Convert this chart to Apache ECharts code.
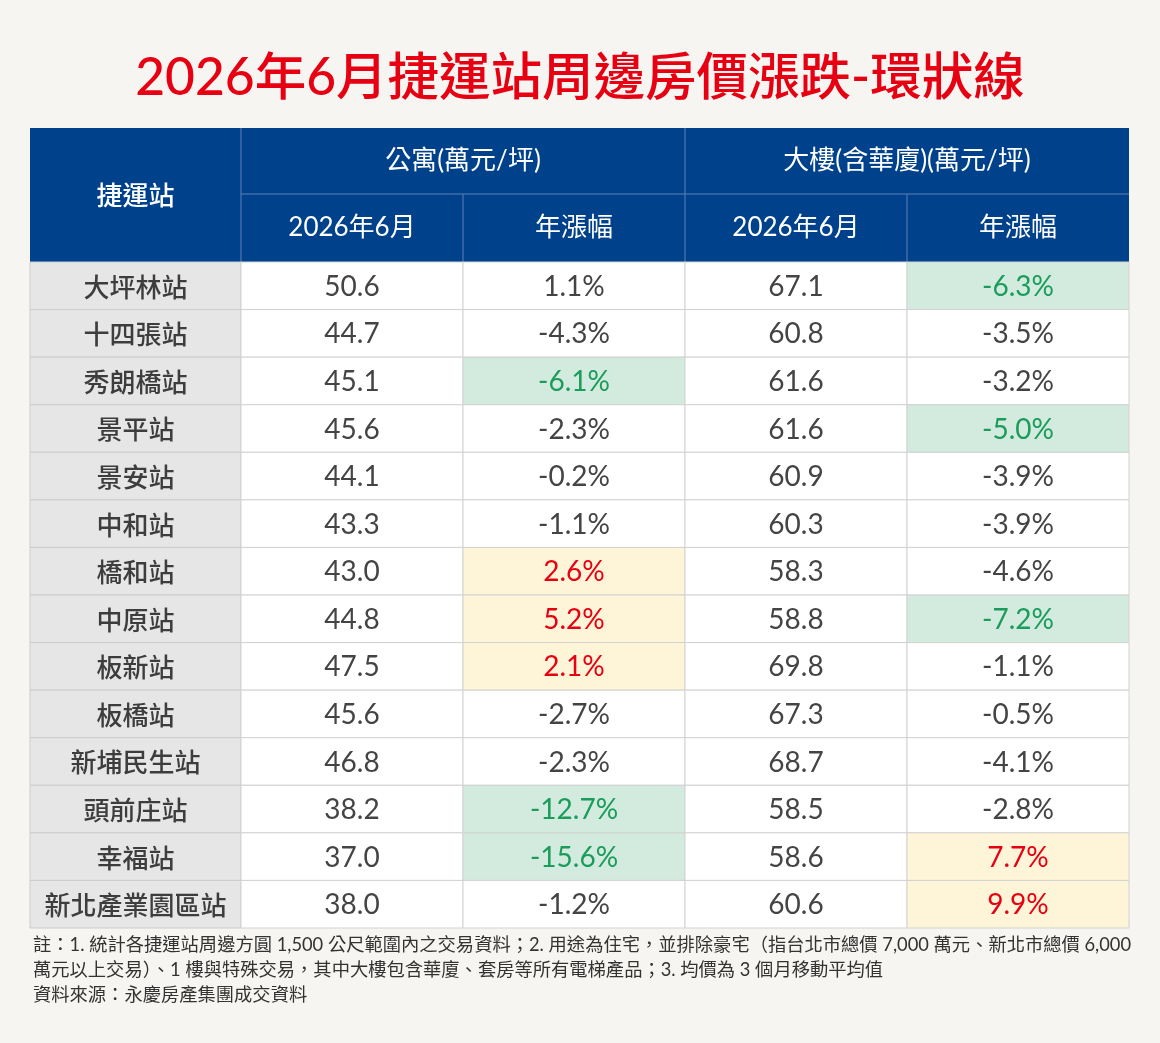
<!DOCTYPE html>
<html>
<head>
<meta charset="utf-8">
<script src="https://cdn.jsdelivr.net/npm/echarts@6/dist/echarts.min.js"></script>
<style>
html,body{margin:0;padding:0;background:#f6f5f1;}
#main{width:1160px;height:1043px;}
</style>
</head>
<body>
<div id="main"></div>
<script>
// ---- data ----
const title = '2026年6月捷運站周邊房價漲跌-環狀線';
const stations = ['大坪林站','十四張站','秀朗橋站','景平站','景安站','中和站','橋和站','中原站','板新站','板橋站','新埔民生站','頭前庄站','幸福站','新北產業園區站'];
const aptPrice = [50.6,44.7,45.1,45.6,44.1,43.3,43.0,44.8,47.5,45.6,46.8,38.2,37.0,38.0];
const aptChange = [1.1,-4.3,-6.1,-2.3,-0.2,-1.1,2.6,5.2,2.1,-2.7,-2.3,-12.7,-15.6,-1.2];
const bldPrice = [67.1,60.8,61.6,61.6,60.9,60.3,58.3,58.8,69.8,67.3,68.7,58.5,58.6,60.6];
const bldChange = [-6.3,-3.5,-3.2,-5.0,-3.9,-3.9,-4.6,-7.2,-1.1,-0.5,-4.1,-2.8,7.7,9.9];
const stationHeader = '捷運站';
const groupHeaders = ['公寓(萬元/坪)','大樓(含華廈)(萬元/坪)'];
const subHeaders = ['2026年6月','年漲幅','2026年6月','年漲幅'];
const notes = [
  '註：1. 統計各捷運站周邊方圓 1,500 公尺範圍內之交易資料；2. 用途為住宅，並排除豪宅（指台北市總價 7,000 萬元、新北市總價 6,000',
  '萬元以上交易）、1 樓與特殊交易，其中大樓包含華廈、套房等所有電梯產品；3. 均價為 3 個月移動平均值',
  '資料來源：永慶房產集團成交資料'
];

// ---- layout ----
const L = 30, C1 = 211, R = 1129, HT = 128, H1 = 66, H2 = 68, BT = 262, BB = 928;
const colW = (R - L - C1) / 4;
const FONT = 'Lato, "Noto Sans CJK TC", sans-serif';
const CJK = '"Noto Sans CJK TC", sans-serif';

// highlight: top 3 positive rises (yellow), bottom 3 negative drops (green)
function marks(arr){
  const idx = arr.map((v,i)=>i);
  const up = idx.filter(i=>arr[i]>0).sort((a,b)=>arr[b]-arr[a]).slice(0,3);
  const dn = idx.filter(i=>arr[i]<0).sort((a,b)=>arr[a]-arr[b]).slice(0,3);
  return arr.map((v,i)=> up.includes(i) ? 'up' : (dn.includes(i) ? 'down' : ''));
}
const aptMark = marks(aptChange), bldMark = marks(bldChange);

const cells = [];
stations.forEach((s,i)=>{
  cells.push([0,i,aptPrice[i].toFixed(1),'']);
  cells.push([1,i,aptChange[i].toFixed(1)+'%',aptMark[i]]);
  cells.push([2,i,bldPrice[i].toFixed(1),'']);
  cells.push([3,i,bldChange[i].toFixed(1)+'%',bldMark[i]]);
});
const nameCells = stations.map((s,i)=>[0,i,s]);

function renderBody(params, api){
  const c = api.coord([api.value(0), api.value(1)]);
  const sz = api.size([1,1]);
  const d = cells[params.dataIndex];
  const m = d[3];
  const fill = m==='up' ? '#fef5d8' : (m==='down' ? '#d3ebde' : '#ffffff');
  const tc = m==='up' ? '#e60012' : (m==='down' ? '#1a9c5b' : '#444444');
  return {type:'group', children:[
    {type:'rect', shape:{x:c[0]-sz[0]/2, y:c[1]-sz[1]/2, width:sz[0], height:sz[1]},
     style:{fill:fill, stroke:'#d2d2d2', lineWidth:1}},
    {type:'text', style:{x:c[0], y:c[1]+1, text:d[2], fill:tc, font:'400 28px '+FONT, align:'center', verticalAlign:'middle'}}
  ]};
}
function renderName(params, api){
  const c = api.coord([api.value(0), api.value(1)]);
  const sz = api.size([1,1]);
  const d = nameCells[params.dataIndex];
  return {type:'group', children:[
    {type:'rect', shape:{x:c[0]-sz[0]/2, y:c[1]-sz[1]/2, width:sz[0], height:sz[1]},
     style:{fill:'#e6e6e6', stroke:'#cccccc', lineWidth:1}},
    {type:'text', style:{x:c[0], y:c[1]+1, text:d[2], fill:'#3d3d3d', font:'500 26px '+CJK, align:'center', verticalAlign:'middle'}}
  ]};
}

const HB = '#00418b', HL = '#5f80b4';
const graphic = [
  {type:'text', x:580, y:78, style:{text:title, fill:'#e60012', font:'500 51.5px '+FONT, textAlign:'center', textVerticalAlign:'middle'}},
  {type:'rect', shape:{x:L, y:HT, width:R-L, height:H1+H2}, style:{fill:HB}},
  {type:'line', shape:{x1:L+C1, y1:HT, x2:L+C1, y2:BT}, style:{stroke:HL, lineWidth:1}},
  {type:'line', shape:{x1:L+C1+2*colW, y1:HT, x2:L+C1+2*colW, y2:BT}, style:{stroke:HL, lineWidth:1}},
  {type:'line', shape:{x1:L+C1+colW, y1:HT+H1, x2:L+C1+colW, y2:BT}, style:{stroke:HL, lineWidth:1}},
  {type:'line', shape:{x1:L+C1+3*colW, y1:HT+H1, x2:L+C1+3*colW, y2:BT}, style:{stroke:HL, lineWidth:1}},
  {type:'line', shape:{x1:L+C1, y1:HT+H1, x2:R, y2:HT+H1}, style:{stroke:HL, lineWidth:1}},
  {type:'text', x:L+C1/2, y:HT+(H1+H2)/2, style:{text:stationHeader, fill:'#fff', font:'500 26px '+CJK, textAlign:'center', textVerticalAlign:'middle'}}
];
groupHeaders.forEach((g,k)=>{
  graphic.push({type:'text', x:L+C1+colW*(2*k+1), y:HT+H1/2, style:{text:g, fill:'#fff', font:'26px '+FONT, textAlign:'center', textVerticalAlign:'middle'}});
});
subHeaders.forEach((g,k)=>{
  graphic.push({type:'text', x:L+C1+colW*(k+0.5), y:HT+H1+H2/2, style:{text:g, fill:'#fff', font:'26px '+FONT, textAlign:'center', textVerticalAlign:'middle'}});
});
notes.forEach((n,k)=>{
  graphic.push({type:'text', x:33, y:945+k*25, style:{text:n, fill:'#333', font:'18.3px '+FONT, textAlign:'left', textVerticalAlign:'middle'}});
});

const chart = echarts.init(document.getElementById('main'), null, {renderer:'canvas'});
chart.setOption({
  backgroundColor:'#f6f5f1',
  animation:false,
  grid:[
    {left:L, top:BT, width:C1, height:BB-BT},
    {left:L+C1, top:BT, width:R-L-C1, height:BB-BT}
  ],
  xAxis:[
    {type:'category', gridIndex:0, data:[stationHeader], show:false},
    {type:'category', gridIndex:1, data:subHeaders.map((s,i)=>i), show:false}
  ],
  yAxis:[
    {type:'category', gridIndex:0, data:stations, inverse:true, show:false},
    {type:'category', gridIndex:1, data:stations, inverse:true, show:false}
  ],
  series:[
    {type:'custom', xAxisIndex:0, yAxisIndex:0, data:nameCells.map(d=>[d[0],d[1]]), renderItem:renderName, encode:{x:0,y:1}, clip:false},
    {type:'custom', xAxisIndex:1, yAxisIndex:1, data:cells.map(d=>[d[0],d[1]]), renderItem:renderBody, encode:{x:0,y:1}, clip:false}
  ],
  graphic:graphic
});
</script>
</body>
</html>
